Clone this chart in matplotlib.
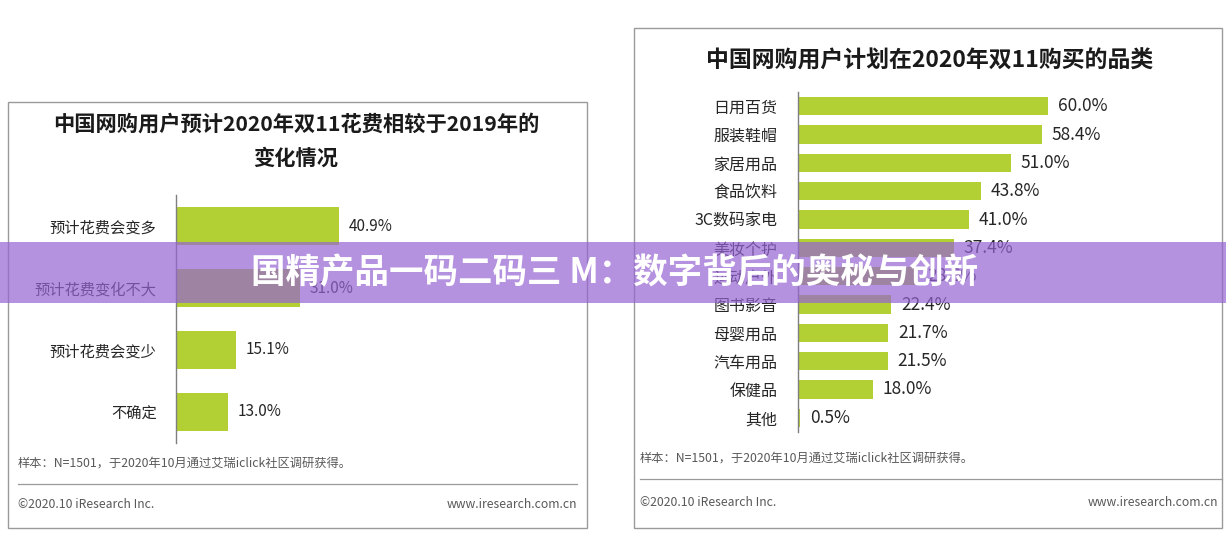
import matplotlib
matplotlib.use("Agg")
import matplotlib.pyplot as plt
from matplotlib.patches import Rectangle
from matplotlib.lines import Line2D

plt.rcParams['font.family'] = ['Noto Sans CJK SC', 'DejaVu Sans']

# ---- data ----
left_title = "中国网购用户预计2020年双11花费相较于2019年的\n变化情况"
left_cats = ["预计花费会变多", "预计花费变化不大", "预计花费会变少", "不确定"]
left_vals = [40.9, 31.0, 15.1, 13.0]

right_title = "中国网购用户计划在2020年双11购买的品类"
right_cats = ["日用百货", "服装鞋帽", "家居用品", "食品饮料", "3C数码家电", "美妆个护",
              "运动户外", "图书影音", "母婴用品", "汽车用品", "保健品", "其他"]
right_vals = [60.0, 58.4, 51.0, 43.8, 41.0, 37.4, 28.6, 22.4, 21.7, 21.5, 18.0, 0.5]

note = "样本：N=1501，于2020年10月通过艾瑞iclick社区调研获得。"
copyright_txt = "©2020.10 iResearch Inc."
site = "www.iresearch.com.cn"
banner = "国精产品一码二码三 M：数字背后的奥秘与创新"

W, H = 1226, 546
BAR = '#b2cf34'
TXT = '#262626'
GRAY = '#7f7f7f'
FOOT = '#595959'

fig = plt.figure(figsize=(W / 100, H / 100), dpi=100)
fig.patch.set_facecolor('white')


def fx(x):
    return x / W


def fy(y):
    return 1 - y / H


def box(x0, y0, x1, y1):
    fig.patches.append(Rectangle((fx(x0), fy(y1)), fx(x1) - fx(x0), fy(y0) - fy(y1),
                                 transform=fig.transFigure, fill=False,
                                 edgecolor='#9a9a9a', linewidth=1.0, zorder=0))


def hline(x0, x1, y):
    fig.add_artist(Line2D([fx(x0), fx(x1)], [fy(y), fy(y)], transform=fig.transFigure,
                          color='#9a9a9a', linewidth=0.9))


def bar_axes(left, top, right, bottom, cats, vals, xmax, height, fs, vfs, pad):
    ax = fig.add_axes([fx(left), fy(bottom), fx(right) - fx(left), fy(top) - fy(bottom)])
    n = len(cats)
    ypos = list(range(n))
    ax.barh(ypos, vals, height=height, color=BAR, zorder=2)
    ax.set_ylim(n - 0.5, -0.5)
    ax.set_xlim(0, xmax)
    ax.set_yticks(ypos)
    ax.set_yticklabels(cats, fontsize=fs, color=TXT)
    ax.tick_params(axis='y', length=0, pad=pad)
    ax.set_xticks([])
    for s in ['top', 'right', 'bottom']:
        ax.spines[s].set_visible(False)
    ax.spines['left'].set_color(GRAY)
    ax.spines['left'].set_linewidth(1.0)
    ax.patch.set_alpha(0)
    for y, v in zip(ypos, vals):
        ax.annotate(f"{v:.1f}%", (v, y), xytext=(7, 0), textcoords='offset points',
                    va='center', ha='left', fontsize=vfs, color=TXT)
    return ax


# ---- left panel ----
box(8, 102, 587, 528)
fig.text(fx(296), fy(124), "中国网购用户预计2020年双11花费相较于2019年的", ha='center', va='center',
         fontsize=15.3, fontweight='bold', color='#1a1a1a')
fig.text(fx(296), fy(158), "变化情况", ha='center', va='center',
         fontsize=15.3, fontweight='bold', color='#1a1a1a')
bar_axes(176, 195, 575, 443, left_cats, left_vals, 100, 0.61, 11, 11, 14)
fig.text(fx(18), fy(463), note, ha='left', va='center', fontsize=8.8, color=FOOT)
hline(18, 577, 484)
fig.text(fx(18), fy(504), copyright_txt, ha='left', va='center', fontsize=8.8, color=FOOT)
fig.text(fx(577), fy(504), site, ha='right', va='center', fontsize=8.8, color=FOOT)

# ---- right panel ----
box(634, 28, 1222, 528)
fig.text(fx(930), fy(61), right_title, ha='center', va='center',
         fontsize=16.5, fontweight='bold', color='#1a1a1a')
bar_axes(798, 92, 1215, 432, right_cats, right_vals, 100, 0.64, 11.5, 12.5, 15)
fig.text(fx(640), fy(458), note, ha='left', va='center', fontsize=8.8, color=FOOT)
hline(640, 1222, 479)
fig.text(fx(640), fy(503), copyright_txt, ha='left', va='center', fontsize=8.8, color=FOOT)
fig.text(fx(1218), fy(503), site, ha='right', va='center', fontsize=8.8, color=FOOT)

# ---- banner ----
fig.patches.append(Rectangle((0, fy(303)), 1, fy(242) - fy(303), transform=fig.transFigure,
                             facecolor=(150 / 255, 100 / 255, 210 / 255), alpha=0.7,
                             edgecolor='none', zorder=10))
fig.text(fx(615), fy(273), banner, ha='center', va='center', fontsize=24.8,
         fontweight='bold', color='white', zorder=11)

fig.savefig("out.png", dpi=100, facecolor='white')
